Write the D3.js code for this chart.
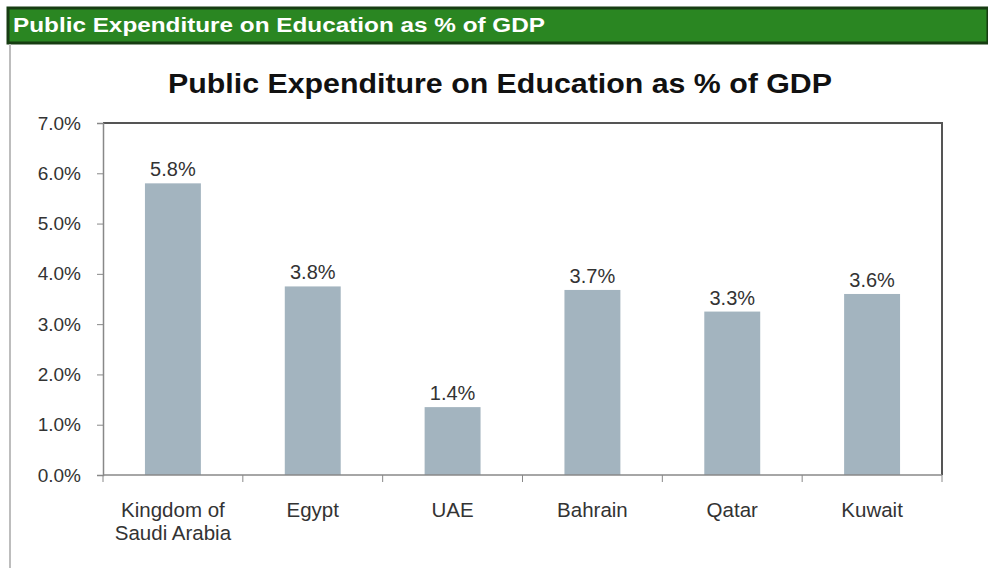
<!DOCTYPE html>
<html>
<head>
<meta charset="utf-8">
<script src="https://cdn.jsdelivr.net/npm/d3@7"></script>
<style>
  body { margin: 0; background: #fff; }
  svg text { font-family: "Liberation Sans", Arial, sans-serif; }
</style>
</head>
<body>
<div id="chart"></div>
<script>
const width = 988;
const height = 568;

const countries = [["Kingdom of", "Saudi Arabia"], ["Egypt"], ["UAE"], ["Bahrain"], ["Qatar"], ["Kuwait"]];
const spending = [5.8, 3.75, 1.35, 3.68, 3.25, 3.6];
const spendingLabels = ["5.8%", "3.8%", "1.4%", "3.7%", "3.3%", "3.6%"];
const yTicks = [0, 1, 2, 3, 4, 5, 6, 7];

const margin = {top: 123, right: 46, bottom: 93, left: 103};

const svg = d3.select("#chart").append("svg")
    .attr("width", width)
    .attr("height", height);

// green header banner
svg.append("rect")
    .attr("x", 8).attr("y", 8)
    .attr("width", width - 8).attr("height", 35)
    .attr("fill", "#2a8622")
    .attr("stroke", "#173d12")
    .attr("stroke-width", 3);

svg.append("text")
    .attr("x", 13).attr("y", 32)
    .attr("fill", "#fff")
    .attr("font-weight", "bold")
    .attr("font-size", 20)
    .attr("textLength", 532)
    .attr("lengthAdjust", "spacingAndGlyphs")
    .text("Public Expenditure on Education as % of GDP");

// outer frame on the left
svg.append("line")
    .attr("x1", 10).attr("x2", 10)
    .attr("y1", 44).attr("y2", height)
    .attr("stroke", "#bdbdbd")
    .attr("stroke-width", 2);

svg.append("text")
    .attr("x", 500).attr("y", 93)
    .attr("text-anchor", "middle")
    .attr("font-weight", "bold")
    .attr("font-size", 27)
    .attr("fill", "#111")
    .attr("textLength", 664)
    .attr("lengthAdjust", "spacingAndGlyphs")
    .text("Public Expenditure on Education as % of GDP");

const x = d3.scaleBand()
    .domain(d3.range(countries.length))
    .range([margin.left, width - margin.right])
    .paddingInner(0.6)
    .paddingOuter(0.3);

const y = d3.scaleLinear()
    .domain([0, 7])
    .range([height - margin.bottom, margin.top]);

const plotL = margin.left, plotR = width - margin.right;
const plotT = margin.top, plotB = height - margin.bottom;
const step = (plotR - plotL) / countries.length;

// plot frame: top and right darker
svg.append("path")
    .attr("d", `M${plotL},${plotT}H${plotR}V${plotB}`)
    .attr("fill", "none")
    .attr("stroke", "#555")
    .attr("stroke-width", 2);

svg.append("g")
    .selectAll("rect")
    .data(spending)
    .join("rect")
    .attr("x", (d, i) => x(i))
    .attr("width", x.bandwidth())
    .attr("y", d => y(d))
    .attr("height", d => y(0) - y(d))
    .attr("fill", "#a3b4bf");

svg.append("g")
    .selectAll("text")
    .data(spending)
    .join("text")
    .attr("x", (d, i) => x(i) + x.bandwidth() / 2)
    .attr("y", d => y(d) - 7)
    .attr("text-anchor", "middle")
    .attr("font-size", 20)
    .attr("fill", "#333")
    .text((d, i) => spendingLabels[i]);

// y axis
const yAxis = svg.append("g")
    .attr("transform", `translate(${plotL},0)`)
    .call(d3.axisLeft(y).tickValues(yTicks).tickSize(6).tickPadding(16)
        .tickFormat(d => d.toFixed(1) + "%"));
yAxis.attr("font-size", 19);
yAxis.select(".domain").attr("stroke", "#888").attr("stroke-width", 1.5);
yAxis.selectAll(".tick line").attr("stroke", "#888");
yAxis.selectAll(".tick text")
    .attr("fill", "#333")
    .attr("font-family", "Liberation Sans, Arial, sans-serif");

// x axis line and ticks at band boundaries
svg.append("line")
    .attr("x1", plotL).attr("x2", plotR)
    .attr("y1", plotB).attr("y2", plotB)
    .attr("stroke", "#888").attr("stroke-width", 1.5);

svg.append("g")
    .selectAll("line")
    .data(d3.range(countries.length + 1))
    .join("line")
    .attr("x1", i => plotL + i * step).attr("x2", i => plotL + i * step)
    .attr("y1", plotB).attr("y2", plotB + 7)
    .attr("stroke", "#888");

const xl = svg.append("g")
    .selectAll("text")
    .data(countries)
    .join("text")
    .attr("x", (d, i) => x(i) + x.bandwidth() / 2)
    .attr("y", plotB + 42)
    .attr("text-anchor", "middle")
    .attr("font-size", 20.5)
    .attr("fill", "#333");
xl.selectAll("tspan")
    .data(d => d)
    .join("tspan")
    .attr("x", function() { return this.parentNode.getAttribute("x"); })
    .attr("dy", (d, i) => i === 0 ? 0 : 23)
    .text(d => d);
</script>
</body>
</html>
